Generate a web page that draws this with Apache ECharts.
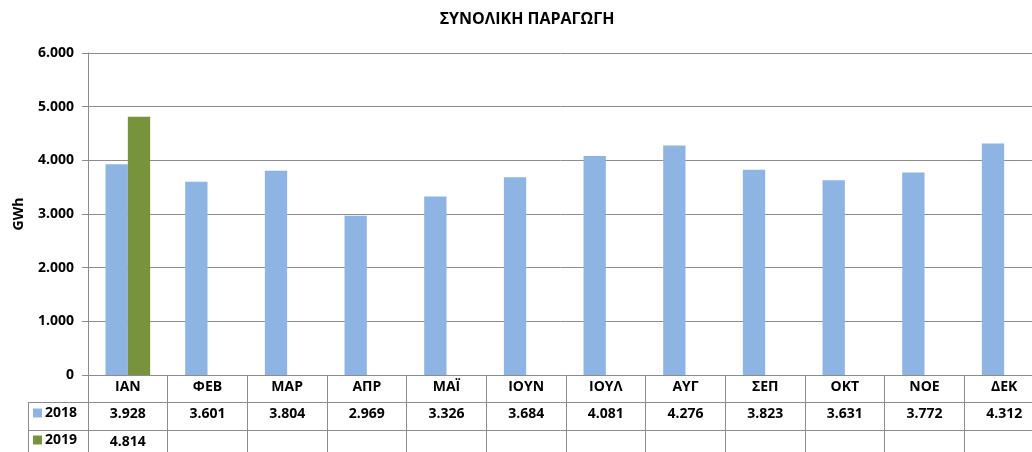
<!DOCTYPE html>
<html>
<head>
<meta charset="utf-8">
<script src="https://cdn.jsdelivr.net/npm/echarts@6/dist/echarts.min.js"></script>
<style>html,body{margin:0;padding:0;background:#fff;}#c{width:1032px;height:452px;}</style>
</head>
<body>
<div id="c"></div>
<script>
var titleText = 'ΣΥΝΟΛΙΚΗ ΠΑΡΑΓΩΓΗ';
var months = ['ΙΑΝ','ΦΕΒ','ΜΑΡ','ΑΠΡ','ΜΑΪ','ΙΟΥΝ','ΙΟΥΛ','ΑΥΓ','ΣΕΠ','ΟΚΤ','ΝΟΕ','ΔΕΚ'];
var seriesNames = ['2018','2019'];
var values2018 = [3928,3601,3804,2969,3326,3684,4081,4276,3823,3631,3772,4312];
var values2019 = [4814,null,null,null,null,null,null,null,null,null,null,null];
var yTicks = [0,1000,2000,3000,4000,5000,6000];

function fmt(v){
  if (v === null || v === undefined) return '';
  var s = String(Math.round(v));
  return s.replace(/\B(?=(\d{3})+(?!\d))/g, '.');
}
var FONT = '"Open Sans", "Noto Sans", sans-serif';
var GRAY = '#8c8c8c';
var chart = echarts.init(document.getElementById('c'));
var lbl = {fontFamily: FONT, fontWeight: 'bold', fontSize: 14, color: '#000'};

function rowAxis(data, offset){
  return {
    type: 'category', position: 'bottom', offset: offset, data: data,
    axisLine: {show: true, lineStyle: {color: GRAY, width: 1}},
    axisTick: {show: false},
    axisLabel: Object.assign({interval: 0, margin: 5}, lbl),
    splitLine: {show: false}
  };
}

chart.setOption({
  animation: false,
  title: {text: titleText, left: 522, top: 6, textAlign: 'center',
    textStyle: {fontFamily: FONT, fontWeight: 'bold', fontSize: 16, color: '#000'}},
  legend: {
    orient: 'vertical', left: 33, top: 406, padding: 0, itemWidth: 9, itemHeight: 9, itemGap: 13,
    icon: 'rect', data: seriesNames,
    textStyle: Object.assign({padding: [0,0,0,-2], lineHeight: 14}, lbl)
  },
  grid: {left: 88, width: 956, top: 53, bottom: 77, containLabel: false, outerBoundsMode: 'none'},
  xAxis: [
    {
      type: 'category', data: months, position: 'bottom',
      axisLine: {show: true, lineStyle: {color: GRAY, width: 1}},
      axisTick: {show: true, length: 80, lineStyle: {color: GRAY, width: 1}},
      axisLabel: Object.assign({interval: 0, margin: 5}, lbl),
      splitLine: {show: false}
    },
    rowAxis(values2018.map(fmt), 27),
    rowAxis(values2019.map(fmt), 55)
  ],
  yAxis: {
    type: 'value', min: yTicks[0], max: yTicks[yTicks.length-1], interval: 1000,
    name: 'GWh', nameLocation: 'middle', nameGap: 62, nameRotate: 90,
    nameTextStyle: lbl,
    axisLine: {show: true, lineStyle: {color: GRAY, width: 1}},
    axisTick: {show: true, length: 6, lineStyle: {color: GRAY}},
    axisLabel: Object.assign({formatter: fmt, margin: 14}, lbl),
    splitLine: {show: true, lineStyle: {color: GRAY, width: 1}}
  },
  graphic: [
    {type: 'line', shape: {x1: 28, y1: 402.5, x2: 88, y2: 402.5}, style: {stroke: GRAY, lineWidth: 1}},
    {type: 'line', shape: {x1: 28, y1: 430.5, x2: 88, y2: 430.5}, style: {stroke: GRAY, lineWidth: 1}},
    {type: 'line', shape: {x1: 28.5, y1: 402, x2: 28.5, y2: 452}, style: {stroke: GRAY, lineWidth: 1}}
  ],
  series: [
    {name: seriesNames[0], type: 'bar', data: values2018, barGap: '0%', barCategoryGap: '44%',
      itemStyle: {color: '#8db4e3'}},
    {name: seriesNames[1], type: 'bar', data: values2019, barGap: '0%', barCategoryGap: '44%',
      itemStyle: {color: '#77933c'}}
  ]
});
</script>
</body>
</html>
